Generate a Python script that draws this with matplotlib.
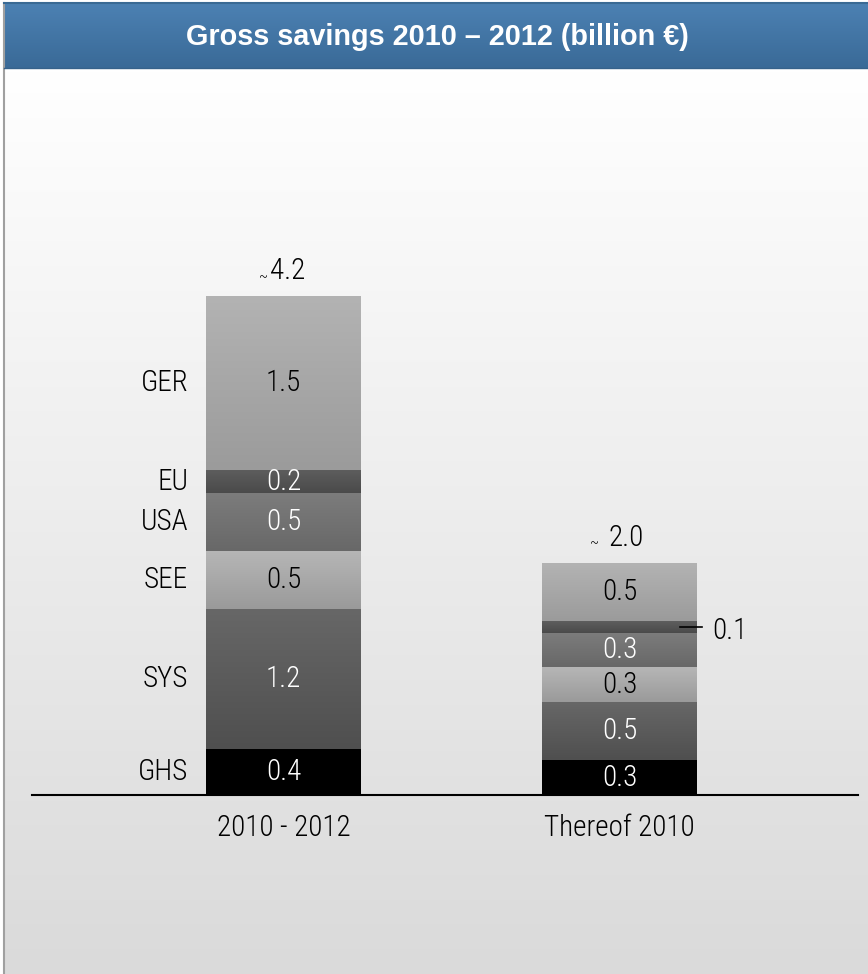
import numpy as np
import matplotlib
matplotlib.use("Agg")
import matplotlib.pyplot as plt
from matplotlib.colors import LinearSegmentedColormap
from matplotlib import font_manager as fm

_avail = set(f.name for f in fm.fontManager.ttflist)
_cands = ["Roboto Condensed", "Archivo Narrow", "PT Sans Narrow", "Liberation Sans Narrow", "Liberation Sans"]
body_font = next((c for c in _cands if c in _avail), "DejaVu Sans")
plt.rcParams['font.family'] = [body_font, 'DejaVu Sans']
TITLE_FONT = ["Liberation Sans", "DejaVu Sans"]

# ---- data ----
categories = ["GHS", "SYS", "SEE", "USA", "EU", "GER"]
bar_labels = ["2010 - 2012", "Thereof 2010"]
values_2010_2012 = [0.4, 1.2, 0.5, 0.5, 0.2, 1.5]
values_2010 = [0.3, 0.5, 0.3, 0.3, 0.1, 0.5]
total_labels = ["~4.2", "~ 2.0"]
title = "Gross savings 2010 \u2013 2012 (billion \u20ac)"

# styles
seg_top = ["#000000", "#676767", "#b6b6b6", "#7c7c7c", "#5e5e5e", "#b3b3b3"]
seg_bot = ["#000000", "#4f4f4f", "#9a9a9a", "#686868", "#4a4a4a", "#9b9b9b"]
label_col = ["white", "white", "black", "white", "white", "black"]
FS = 21
FW = "light"

W, H = 868, 974
fig = plt.figure(figsize=(W / 100, H / 100), dpi=100)

# background axes in pixel coords
bg = fig.add_axes([0, 0, 1, 1])
bg.set_xlim(0, W)
bg.set_ylim(H, 0)
bg.axis('off')
grad = np.linspace(0, 1, 256).reshape(-1, 1)
bg_cmap = LinearSegmentedColormap.from_list("bg", ["#ffffff", "#dadada"])
bg.imshow(grad, cmap=bg_cmap, extent=(4, W, H, 68), aspect='auto', origin='upper', zorder=0)
title_cmap = LinearSegmentedColormap.from_list("tb", ["#4c81b3", "#3a6a97"])
bg.imshow(grad, cmap=title_cmap, extent=(4, W, 68, 3), aspect='auto', origin='upper', zorder=1)
bg.plot([4, 4], [3, H], color="#a0a0a0", lw=1.5, zorder=2)
bg.plot([4, W], [3, 3], color="#3a6a94", lw=1.5, zorder=2)
bg.plot([4, W], [68, 68], color="#36628b", lw=1, zorder=2)
bg.text(437, 37, title, color="white", fontsize=20.8, fontweight="bold",
        family=TITLE_FONT, ha="center", va="center", zorder=3)

# main axes
x_left_px, x_right_px = 32, 858
base_px, top_px = 795, 99
ax = fig.add_axes([x_left_px / W, (H - base_px) / H,
                   (x_right_px - x_left_px) / W, (base_px - top_px) / H])
ax.patch.set_alpha(0)
ax.set_xlim(-0.7485, 1.7098)
ax.set_ylim(0, 6.0)
for s in ["top", "right", "left"]:
    ax.spines[s].set_visible(False)
ax.spines["bottom"].set_linewidth(1.5)
ax.spines["bottom"].set_color("black")
ax.set_yticks([])
xs = np.arange(len(bar_labels))
ax.set_xticks(xs)
ax.set_xticklabels(bar_labels, fontsize=FS, fontweight=FW)
ax.tick_params(axis='x', length=0, pad=14)

width = 0.46
series = [values_2010_2012, values_2010]
for i, vals in enumerate(series):
    bottom = 0.0
    for j, v in enumerate(vals):
        bars = ax.bar(xs[i], v, width, bottom=bottom, color=seg_bot[j], linewidth=0, zorder=2)
        patch = bars[0]
        cm = LinearSegmentedColormap.from_list("s", [seg_top[j], seg_bot[j]])
        im = ax.imshow(grad, cmap=cm, extent=(xs[i] - width / 2, xs[i] + width / 2, bottom, bottom + v),
                       aspect='auto', origin='upper', zorder=3)
        im.set_clip_path(patch)
        mid = bottom + v / 2
        if i == 1 and categories[j] == "EU":
            ax.plot([xs[i] + width / 2 - 0.05, xs[i] + width / 2 + 0.015], [mid, mid],
                    color="black", lw=1.2, zorder=4)
            ax.annotate(f"{v:.1f}", (xs[i] + width / 2 + 0.045, mid), xytext=(0, -3),
                        textcoords="offset points", fontsize=FS, fontweight=FW,
                        ha="left", va="center", color="black", zorder=4)
        else:
            ax.text(xs[i], mid, f"{v:.1f}", fontsize=FS, fontweight=FW, ha="center", va="center",
                    color=label_col[j], zorder=4)
        if i == 0:
            ax.text(xs[i] - width / 2 - 0.054, mid, categories[j], fontsize=FS, fontweight=FW,
                    ha="right", va="center", color="black")
        bottom += v
    # total label
    tl = total_labels[i]
    tilde, num = tl[0], tl[1:].strip()
    ax.annotate(num, (xs[i], bottom), xytext=(3 if i == 0 else 5, 8), textcoords="offset points",
                ha="center", va="bottom", fontsize=FS, fontweight=FW)
    ax.annotate(tilde, (xs[i], bottom), xytext=(-11 if i == 0 else -15, 9), textcoords="offset points",
                ha="right", va="bottom", fontsize=11, fontweight=FW)

fig.savefig("out.png", dpi=100)
